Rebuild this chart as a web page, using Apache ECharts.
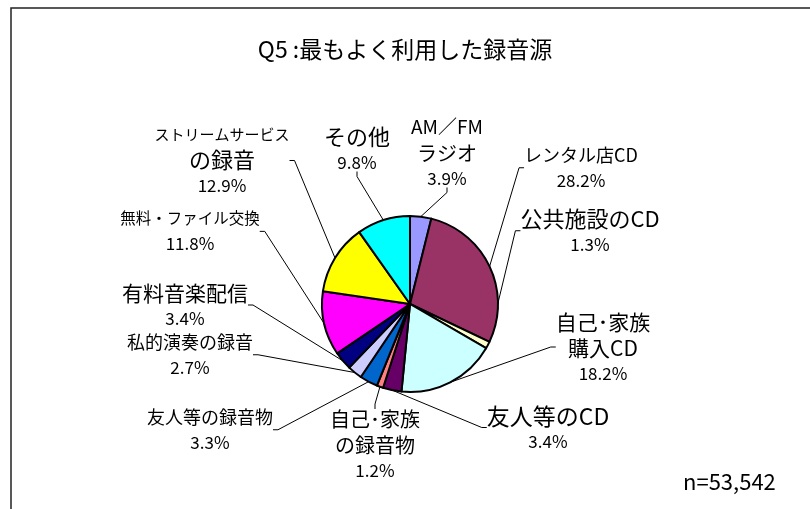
<!DOCTYPE html>
<html>
<head>
<meta charset="utf-8">
<script src="https://cdn.jsdelivr.net/npm/echarts@6/dist/echarts.min.js"></script>
<style>
html,body{margin:0;padding:0;background:#fff;}
#main{width:810px;height:509px;}
</style>
</head>
<body>
<div id="main"></div>
<script>
// 項目名（12時の位置から時計回り）
var names = ['AM／FM\nラジオ', 'レンタル店CD', '公共施設のCD', '自己･家族\n購入CD', '友人等のCD',
    '自己･家族\nの録音物', '友人等の録音物', '私的演奏の録音', '有料音楽配信', '無料・ファイル交換',
    'ストリームサービス\nの録音', 'その他'];
// 割合(%)
var values = [3.9, 28.2, 1.3, 18.2, 3.4, 1.2, 3.3, 2.7, 3.4, 11.8, 12.9, 9.8];
var colors = ['#9999FF', '#993366', '#FFFFCC', '#CCFFFF', '#660066', '#FF8080',
    '#0066CC', '#CCCCFF', '#000080', '#FF00FF', '#FFFF00', '#00FFFF'];
var sampleText = 'n=53,542';

// ラベル位置（中心x, 中心y）と文字サイズ（1行目, 2行目）
var labelPos = [
    [447, 153, 19, 20], [581, 168, 18, 18], [590, 232, 22, 22], [603, 348, 21, 21], [548, 429, 23, 23],
    [375, 445, 20, 20], [210, 430, 18, 18], [190, 355, 18, 18], [185, 306, 21, 21], [190, 231, 15.5, 15.5],
    [222, 160, 15, 22], [357, 150, 22, 22]
];

var font = '"Noto Sans CJK JP", sans-serif';

var chart = echarts.init(document.getElementById('main'));

var data = names.map(function (n, i) {
    return {
        name: n,
        value: values[i],
        itemStyle: {color: colors[i]},
        label: {
            rich: {
                n0: {fontSize: labelPos[i][2], fontFamily: font, color: '#000', lineHeight: 26, align: 'center'},
                n1: {fontSize: labelPos[i][3], fontFamily: font, color: '#000', lineHeight: 26, align: 'center'},
                p: {fontSize: 17, fontFamily: font, color: '#000', lineHeight: 26, align: 'center'}
            }
        }
    };
});

chart.setOption({
    animation: false,
    backgroundColor: '#fff',
    title: [{
        text: 'Q5 :最もよく利用した録音源',
        left: 'center',
        top: 33,
        textStyle: {fontSize: 23, fontWeight: 'normal', fontFamily: font, color: '#000'}
    }, {
        text: sampleText,
        left: 678,
        top: 466,
        textStyle: {fontSize: 22, fontWeight: 'normal', fontFamily: font, color: '#000'}
    }],
    graphic: [{
        type: 'rect',
        shape: {x: 11, y: 8, width: 900, height: 600},
        style: {fill: 'none', stroke: '#222', lineWidth: 1.5},
        silent: true
    }],
    series: [{
        type: 'pie',
        center: [410, 304],
        radius: 88,
        startAngle: 90,
        clockwise: true,
        itemStyle: {borderColor: '#000', borderWidth: 2},
        label: {
            show: true,
            position: 'outside',
            formatter: function (p) {
                return p.name.split('\n').map(function (s, k) { return '{n' + (k ? 1 : 0) + '|' + s + '}'; }).join('\n') +
                    '\n{p|' + p.value.toFixed(1) + '%}';
            }
        },
        labelLine: {show: true, length: 10, length2: 5, lineStyle: {color: '#000', width: 1}},
        labelLayout: function (params) {
            var lp = labelPos[params.dataIndex];
            return {
                x: lp[0],
                y: lp[1],
                align: 'center',
                verticalAlign: 'middle'
            };
        },
        emphasis: {disabled: true},
        data: data
    }]
});
</script>
</body>
</html>
